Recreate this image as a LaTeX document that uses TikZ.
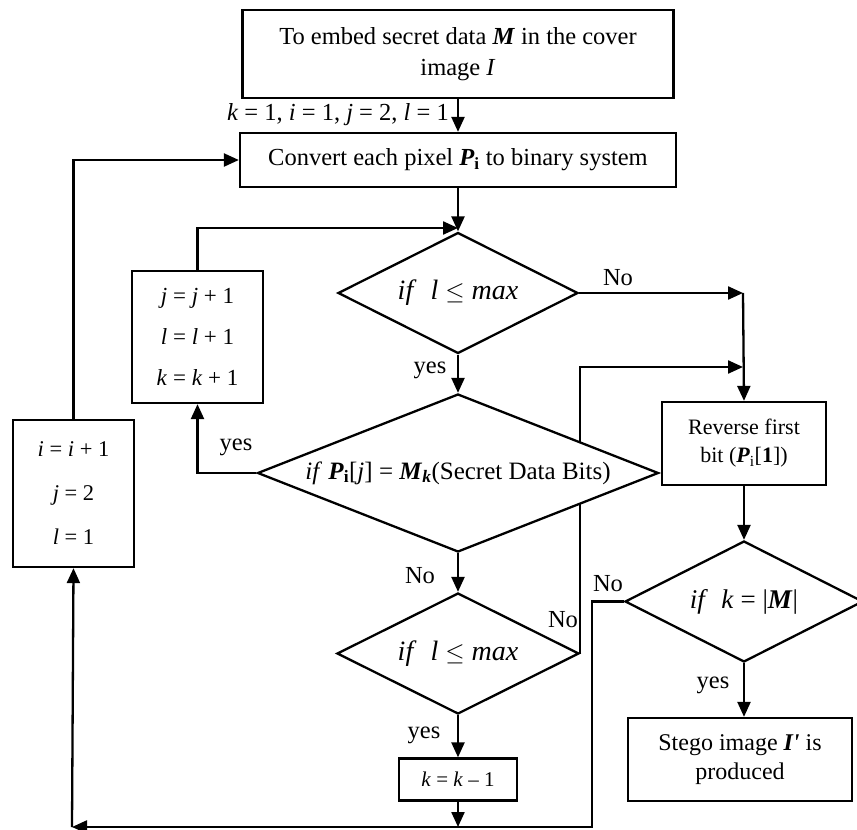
\documentclass[tikz,border=0pt]{standalone}
\usepackage{fontspec}
\setmainfont{Liberation Serif}
\usetikzlibrary{shapes.geometric,arrows.meta,backgrounds}
\newcommand{\vi}[1]{\textit{#1}}
\newcommand{\vb}[1]{\textbf{\textit{#1}}}
\begin{document}
\begin{tikzpicture}[x=1pt,y=-1pt,
  font=\fontsize{24.5}{31}\selectfont,
  box/.style={draw, line width=2.3pt, inner sep=0pt, align=center, fill=white},
  dia/.style={draw, diamond, line width=2.3pt, inner sep=0pt, aspect=2.5, align=center, fill=white},
  arr/.style={-{Triangle[length=15pt,width=13pt]}, line width=2.3pt},
  lbl/.style={inner sep=0pt}]
\useasboundingbox (0,0) rectangle (857,830);

% nodes
\node[box, minimum width=431, minimum height=88] (top) at (458,54)
  {To embed secret data \vb{M} in the cover\\ image \vi{I}};
\node[box, minimum width=436, minimum height=54] (conv) at (458,160)
  {Convert each pixel \vb{P}\textsubscript{\textbf{i}} to binary system};
\node[dia, minimum width=240, minimum height=121, font=\fontsize{28}{30}\selectfont] (d1) at (458,293)
  {\vi{if} \ \vi{l} $\leq$ \vi{max}};
\node[box, minimum width=131, minimum height=132, font=\fontsize{23}{41}\selectfont] (bj) at (197.5,337)
  {\vi{j} = \vi{j} + 1\\ \vi{l} = \vi{l} + 1\\ \vi{k} = \vi{k} + 1};
\node[dia, minimum width=401, minimum height=158, font=\fontsize{25}{30}\selectfont] (d2) at (458,473)
  {\vi{if} \vb{P}\textsubscript{\textbf{i}}[\vi{j}] = \vb{M}\textsubscript{\vb{k}}(Secret Data Bits)};
\node[box, minimum width=121, minimum height=147, font=\fontsize{22.5}{44}\selectfont] (bi) at (73.5,493.5)
  {\vi{i} = \vi{i} + 1\\ \vi{j} = 2\\ \vi{l} = 1};
\node[dia, minimum width=242, minimum height=121, font=\fontsize{28}{30}\selectfont] (d3) at (458,653.5)
  {\vi{if} \ \vi{l} $\leq$ \vi{max}};
\node[box, minimum width=118, minimum height=42, font=\fontsize{21}{24}\selectfont] (bk) at (458,779.5)
  {\vi{k} = \vi{k} -- 1};
\node[box, minimum width=164, minimum height=83, font=\fontsize{22}{28}\selectfont] (rev) at (744,443.5)
  {Reverse first\\ bit (\vb{P}\textsubscript{i}[\textbf{1}])};
\node[dia, minimum width=238, minimum height=121, font=\fontsize{27}{30}\selectfont] (d4) at (744,601.5)
  {\vi{if} \ \vi{k} = |\vb{M}|};
\node[box, minimum width=224, minimum height=83, font=\fontsize{24}{29}\selectfont] (st) at (740,759.5)
  {Stego image \vb{I\textquotesingle} is\\ produced};

% labels
\node[lbl, anchor=east] (init) at (449,115) {\vi{k} = 1, \vi{i} = 1, \vi{j} = 2, \vi{l} = 1};
\node[lbl] (l1) at (618,278) {No};
\node[lbl] (l2) at (430,370) {yes};
\node[lbl] (l3) at (236,447) {yes};
\node[lbl] (l4) at (420,576) {No};
\node[lbl] (l5) at (563,620) {No};
\node[lbl] (l6) at (424,735) {yes};
\node[lbl] (l7) at (608,584) {No};
\node[lbl] (l8) at (713,685) {yes};

% helper coordinates
\coordinate (lp) at (458,228);
\coordinate (j1) at (743,293);
\coordinate (j2) at (743,367);
\coordinate (b1) at (592,827);
\coordinate (bc) at (72,827);

\begin{scope}[on background layer]
\draw[arr] (top.south) -- (conv.north);
\draw[arr] (conv.south) -- (d1.north);
\draw[arr] (d1.south) -- (d2.north);
\draw[arr] (d2.south) -- (d3.north);
\draw[arr] (d3.south) -- (bk.north);
\draw[arr] (bk.south) -- (bk.south |- bc);
\draw[arr] (bj.north) |- (lp);
\draw[arr] (d2.west) -| (bj.south);
\draw[arr] (bi.north) |- (conv.west);
\draw[arr] (d1.east) -- (j1);
\draw[arr] (j1) -- (rev.north);
\draw[arr] (d3.east) -- (d3.east |- j2) -- (j2);
\draw[arr] (rev.south) -- (d4.north);
\draw[arr] (d4.south) -- (d4.south |- st.north);
\draw[arr] (d4.west) -| (b1) -- (bc);
\draw[arr] (bc) -- (bi.south);
\end{scope}
\end{tikzpicture}
\end{document}
